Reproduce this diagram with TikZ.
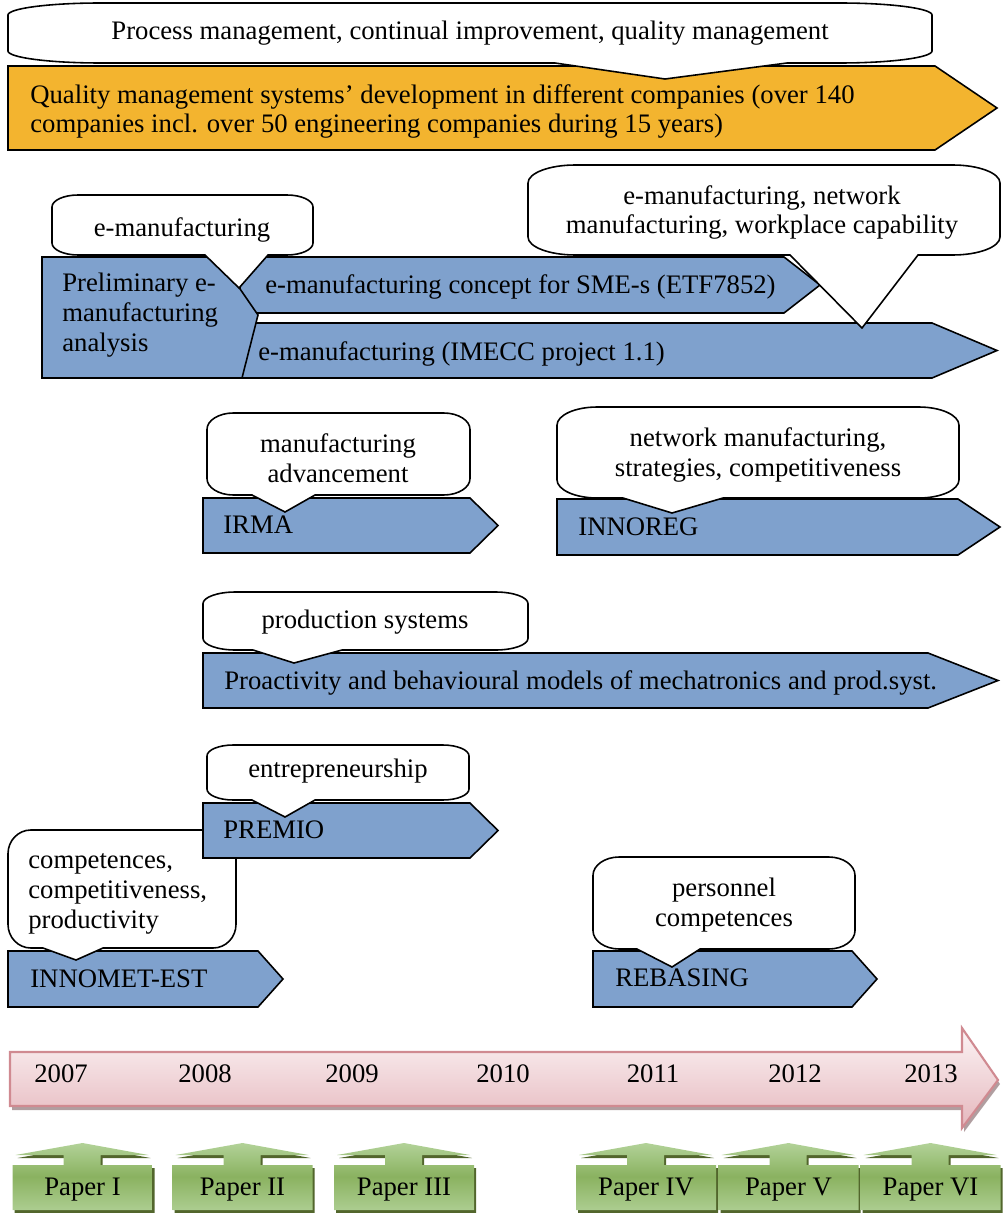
\documentclass[tikz,border=0pt]{standalone}
\usepackage{fontspec}
\setmainfont{Liberation Serif}
\usepackage{tikz}

\definecolor{projblue}{RGB}{127,161,205}
\definecolor{qmsorange}{RGB}{243,180,47}
\definecolor{tlborder}{RGB}{208,138,145}
\definecolor{tltop}{RGB}{252,244,245}
\definecolor{tlbottom}{RGB}{229,183,189}
\definecolor{tlshade}{RGB}{176,158,160}
\definecolor{papertop}{RGB}{178,210,152}
\definecolor{papermid}{RGB}{138,178,96}
\definecolor{paperbot}{RGB}{172,205,144}
\definecolor{papershade}{RGB}{82,102,44}

\tikzset{
  txt/.style={font=\fontsize{15.2}{17}\selectfont, inner sep=0pt},
  projbar/.style={draw=black, line width=0.9pt, fill=projblue},
  qmsbar/.style={projbar, fill=qmsorange},
  bubble/.style={draw=black, line width=0.9pt, fill=white},
  timeline/.style={draw=tlborder, line width=1.2pt, top color=tltop, bottom color=tlbottom},
  tlshadow/.style={fill=tlshade},
  paperbox/.style={top color=papertop, bottom color=paperbot, middle color=papermid},
  papershadow/.style={fill=papershade}
}

% pentagon bar: style, left, top, body end, tip x, bottom
\newcommand{\projarrow}[6]{%
  \draw[#1] (#2,#3) -- (#4,#3) -- (#5,{(#3+#6)/2}) -- (#4,#6) -- (#2,#6) -- cycle;}

% callout: left, top, right, bottom, tail start x, tip x, tip y, tail end x
\newcommand{\bubble}[8]{%
  \pgfmathsetmacro{\bubrx}{0.1*(#3-#1)}%
  \pgfmathsetmacro{\bubry}{0.2*(#4-#2)}%
  \draw[bubble] (#5,#4) -- (#6,#7) -- (#8,#4) -- ({#3-\bubrx},#4)
    .. controls ({#3-0.45*\bubrx},#4) and (#3,{#4-0.45*\bubry}) .. (#3,{#4-\bubry})
    -- (#3,{#2+\bubry})
    .. controls (#3,{#2+0.45*\bubry}) and ({#3-0.45*\bubrx},#2) .. ({#3-\bubrx},#2)
    -- ({#1+\bubrx},#2)
    .. controls ({#1+0.45*\bubrx},#2) and (#1,{#2+0.45*\bubry}) .. (#1,{#2+\bubry})
    -- (#1,{#4-\bubry})
    .. controls (#1,{#4-0.45*\bubry}) and ({#1+0.45*\bubrx},#4) .. ({#1+\bubrx},#4)
    -- cycle;}

% up-arrow box under the time line, centred at x
\newcommand{\paperarrow}[2]{%
  \path[#2] ({#1-70},1210) -- ({#1-70},1165) -- ({#1-19},1165) -- ({#1-19},1155)
    -- ({#1-67},1155) -- (#1,1143) -- ({#1+66},1155) -- ({#1+18},1155)
    -- ({#1+18},1165) -- ({#1+70},1165) -- ({#1+70},1210) -- cycle;}

\begin{document}
\begin{tikzpicture}[x=0.02cm, y=-0.02cm]
  \useasboundingbox (0,0) rectangle (1007,1213);

  \projarrow{qmsbar}{8}{66}{935}{997}{150}
  \bubble{8}{3}{932}{63}{555}{665}{79}{787}
  \node[txt, anchor=base] (qmtopic) at (470,40) {Process management, continual improvement, quality management};
  \node[txt, anchor=base west, align=left] (qms) at (30,133)
    {Quality management systems’ development in different companies (over 140\\companies incl. over 50 engineering companies during 15 years)};

  \projarrow{projbar}{240}{257}{784}{820}{313}
  \projarrow{projbar}{240}{323}{932}{997}{378}
  \draw[projbar] (42,257) -- (218,257) -- (258,315) -- (242,378) -- (42,378) -- cycle;
  \bubble{52}{195}{313}{255}{205}{239}{288}{268}
  \bubble{528}{165}{1000}{255}{790}{862}{328}{918}
  \node[txt, anchor=base] (emtopic) at (182,236) {e-manufacturing};
  \node[txt, anchor=base, align=center] (nettopic) at (762,234)
    {e-manufacturing, network\\manufacturing, workplace capability};
  \node[txt, anchor=base west, align=left] (prelim) at (62,351)
    {Preliminary e-\\manufacturing\\analysis};
  \node[txt, anchor=base west] (etf) at (265,293) {e-manufacturing concept for SME-s (ETF7852)};
  \node[txt, anchor=base west] (imecc) at (258,360) {e-manufacturing (IMECC project 1.1)};

  \projarrow{projbar}{203}{498}{470}{498}{553}
  \bubble{207}{413}{470}{495}{252}{285}{512}{315}
  \node[txt, anchor=base, align=center] (advtopic) at (338,482) {manufacturing\\advancement};
  \node[txt, anchor=base west] (irma) at (223,533) {IRMA};

  \projarrow{projbar}{557}{499}{958}{1000}{555}
  \bubble{557}{407}{959}{498}{623}{672}{513}{723}
  \node[txt, anchor=base, align=center] (strtopic) at (758,476)
    {network manufacturing,\\strategies, competitiveness};
  \node[txt, anchor=base west] (innoreg) at (578,535) {INNOREG};

  \projarrow{projbar}{203}{653}{928}{998}{708}
  \bubble{203}{592}{528}{650}{253}{294}{663}{342}
  \node[txt, anchor=base] (prodtopic) at (365,628) {production systems};
  \node[txt, anchor=base west] (proact) at (224,689)
    {Proactivity and behavioural models of mechatronics and prod.syst.};

  \projarrow{projbar}{8}{951}{258}{283}{1007}
  \bubble{8}{830}{236}{948}{43}{76}{960}{103}
  \projarrow{projbar}{203}{803}{470}{498}{858}
  \bubble{207}{745}{469}{800}{252}{285}{817}{315}
  \node[txt, anchor=base] (enttopic) at (338,777) {entrepreneurship};
  \node[txt, anchor=base west] (premio) at (223,838) {PREMIO};
  \node[txt, anchor=base west, align=left] (comptopic) at (28,928)
    {competences,\\competitiveness,\\productivity};
  \node[txt, anchor=base west] (innomet) at (30,987) {INNOMET-EST};

  \projarrow{projbar}{593}{951}{852}{877}{1007}
  \bubble{593}{857}{855}{949}{637}{672}{967}{700}
  \node[txt, anchor=base, align=center] (perstopic) at (724,926) {personnel\\competences};
  \node[txt, anchor=base west] (rebasing) at (615,986) {REBASING};

  \begin{scope}[shift={(2,4)}]
    \fill[tlshadow] (10,1052) -- (962,1052) -- (962,1028) -- (998,1080) -- (962,1128)
      -- (962,1106) -- (10,1106) -- cycle;
  \end{scope}
  \draw[timeline] (10,1052) -- (962,1052) -- (962,1028) -- (998,1080) -- (962,1128)
    -- (962,1106) -- (10,1106) -- cycle;
  \foreach \yr/\xx in {2007/61,2008/205,2009/352,2010/503,2011/653,2012/795,2013/931}
    \node[txt] (y\yr) at (\xx,1074) {\yr};

  \foreach \cx/\nm/\lab in {82.5/p1/Paper I,242.5/p2/Paper II,404/p3/Paper III,
                            646/p4/Paper IV,788.5/p5/Paper V,930.5/p6/Paper VI} {
    \begin{scope}[shift={(2,3)}]
      \paperarrow{\cx}{papershadow}
    \end{scope}
    \paperarrow{\cx}{paperbox}
    \node[txt, anchor=base] (\nm) at (\cx,1195) {\lab};
  }
\end{tikzpicture}
\end{document}
